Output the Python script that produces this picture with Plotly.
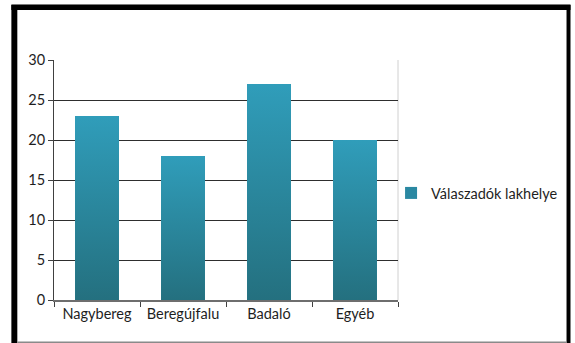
import plotly.graph_objects as go

# Survey: where respondents live
categories = ["Nagybereg", "Beregújfalu", "Badaló", "Egyéb"]
values = [23, 18, 27, 20]
series_name = "Válaszadók lakhelye"
y_ticks = [0, 5, 10, 15, 20, 25, 30]

W, H = 575, 343
ML, MR, MT, MB = 54, 174, 60, 43
PW, PH = W - ML - MR, H - MT - MB

BAR_WIDTH = 0.51
GRADIENT = [[0, "#24707f"], [1, "#309dba"]]
FONT = "Lato"
FS = 14.5
TXT = "#1e1e1e"

fig = go.Figure()
xs = list(range(len(categories)))

# base bars (also provide the legend entry)
fig.add_trace(go.Bar(
    x=xs, y=values, width=BAR_WIDTH,
    marker=dict(color="#2a88a2", line=dict(width=0)),
    name=series_name,
    customdata=categories,
    hovertemplate="%{customdata}: %{y}<extra></extra>",
))

# vertical gradient laid over each bar
for i, v in enumerate(values):
    x0, x1 = i - BAR_WIDTH / 2, i + BAR_WIDTH / 2
    fig.add_trace(go.Scatter(
        x=[x0, x1, x1, x0, x0],
        y=[0, 0, v, v, 0],
        mode="lines",
        fill="toself",
        fillgradient=dict(type="vertical", colorscale=GRADIENT),
        line=dict(width=0, color="#2a86a0"),
        showlegend=False,
        hoverinfo="skip",
    ))


def px(x):
    return (x - ML) / PW


def py(y):
    return (H - MB - y) / PH


# outer frame of the chart box
frame = [
    (11, 5, 17, 343, "black"),
    (11, 5, 575, 10, "black"),
    (571, 5, 575, 343, "black"),
    (11, 4, 575, 5, "#7a7a7a"),
    (17, 341.5, 571, 343, "#8a8a8a"),
]
shapes = []
for x0, y0, x1, y1, c in frame:
    shapes.append(dict(type="rect", xref="paper", yref="paper",
                       x0=px(x0), x1=px(x1), y0=py(y0), y1=py(y1),
                       fillcolor=c, line=dict(width=0), layer="above"))
# right edge of plot area
shapes.append(dict(type="line", xref="paper", yref="paper", x0=1, x1=1, y0=0, y1=1,
                   line=dict(color="#d0d0d0", width=1), layer="below"))

fig.update_layout(
    width=W, height=H,
    margin=dict(l=ML, r=MR, t=MT, b=MB),
    paper_bgcolor="white",
    plot_bgcolor="white",
    font=dict(family=FONT, size=FS, color=TXT),
    showlegend=True,
    legend=dict(x=px(394), y=py(193), xanchor="left", yanchor="middle",
                font=dict(family=FONT, size=FS, color=TXT),
                itemwidth=30, bgcolor="rgba(0,0,0,0)"),
    shapes=shapes,
    xaxis=dict(
        range=[-0.5, 3.5],
        tickmode="array", tickvals=xs, ticktext=categories,
        ticks="", showgrid=False, zeroline=False,
        showline=True, linecolor="#6e6e6e", linewidth=2,
        minor=dict(tickmode="linear", tick0=-0.5, dtick=1, ticks="outside",
                   ticklen=5, tickcolor="#404040", tickwidth=1, showgrid=False),
        tickfont=dict(family=FONT, size=FS, color=TXT),
        fixedrange=True,
    ),
    yaxis=dict(
        range=[0, 30],
        tickmode="array", tickvals=y_ticks,
        ticks="outside", ticklen=5, tickcolor="#404040",
        showgrid=True, gridcolor="#2e2e2e", gridwidth=1,
        zeroline=False,
        showline=True, linecolor="#404040", linewidth=1,
        tickfont=dict(family=FONT, size=FS, color=TXT),
        fixedrange=True,
    ),
)

fig.write_html("out.html")
